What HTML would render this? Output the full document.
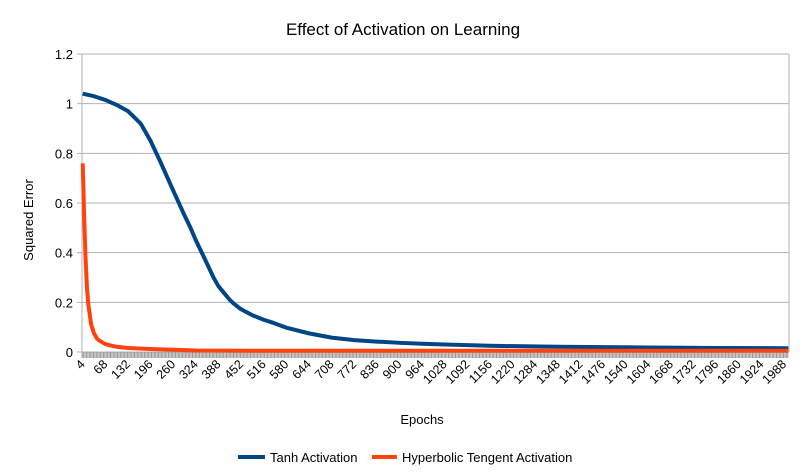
<!DOCTYPE html>
<html><head><meta charset="utf-8"><style>
body{margin:0;background:#fff;}
svg{display:block;font-family:"Liberation Sans",sans-serif;}
</style></head><body>
<svg id="chart" width="807" height="476" viewBox="0 0 807 476">
<text x="403" y="35" text-anchor="middle" font-size="17" fill="#000">Effect of Activation on Learning</text>
<g id="grid"></g>
<g id="yticks"></g>
<g id="xticks"></g>
<g id="series"></g>
<text transform="translate(33,220) rotate(-90)" text-anchor="middle" font-size="13">Squared Error</text>
<text x="422" y="424" text-anchor="middle" font-size="13">Epochs</text>
<g>
<g><line x1="238" y1="457" x2="265" y2="457" stroke="#004586" stroke-width="4"/><text x="270" y="462" font-size="13">Tanh Activation</text></g>
<g><line x1="372" y1="457" x2="397" y2="457" stroke="#ff420e" stroke-width="4"/><text x="402" y="462" font-size="13">Hyperbolic Tengent Activation</text></g>
</g>
</svg>
<script>
const yTicks=[0,0.2,0.4,0.6,0.8,1,1.2];
const xLabels=[4,68,132,196,260,324,388,452,516,580,644,708,772,836,900,964,1028,1092,1156,1220,1284,1348,1412,1476,1540,1604,1668,1732,1796,1860,1924,1988];
const tanhEpochs=[4,36,68,100,132,168,196,224,260,292,309,324,356,374,388,420,431,452,484,516,544,580,644,708,772,836,900,964,1028,1156,1348,1604,1800,2000];
const tanhValues=[1.04,1.03,1.015,0.995,0.97,0.92,0.85,0.765,0.65,0.55,0.50,0.45,0.355,0.30,0.265,0.21,0.195,0.172,0.148,0.13,0.117,0.098,0.075,0.058,0.048,0.042,0.037,0.033,0.030,0.025,0.021,0.018,0.016,0.015];
const hypEpochs=[4,8,12,16,20,28,36,44,52,68,84,100,132,196,260,324,500,1000,2000];
const hypValues=[0.76,0.55,0.38,0.26,0.19,0.11,0.075,0.055,0.045,0.032,0.026,0.021,0.016,0.012,0.009,0.006,0.005,0.005,0.005];
const L=82,R=789,T=54,B=352,yMax=1.2;
function y(v){return B-(v/yMax)*(B-T);}
function x(e){return L+((e-4)/4+0.5)*(R-L)/500;}
const NS="http://www.w3.org/2000/svg";
function mk(t,a,p){const el=document.createElementNS(NS,t);for(const k in a)el.setAttribute(k,a[k]);p.appendChild(el);return el;}
const grid=document.getElementById('grid'),yt=document.getElementById('yticks'),xt=document.getElementById('xticks'),ser=document.getElementById('series');
yTicks.forEach(v=>{
 const g=mk('line',{x1:L-5,x2:R,y1:y(v),y2:y(v),stroke:'#b3b3b3','stroke-width':1},grid);
 
 
 const t=mk('text',{x:L-9,y:y(v)+5,'text-anchor':'end','font-size':13},yt);
 t.textContent=String(v);
 
 
});
mk('line',{x1:L,x2:L,y1:T,y2:B+6,stroke:'#b3b3b3','stroke-width':1},grid);
mk('line',{x1:R,x2:R,y1:T,y2:B,stroke:'#b3b3b3','stroke-width':1},grid);
let d='';
for(let e=4;e<=2000;e+=4){const xx=x(e)-0.5;d+='M'+xx+' '+B+'V'+(B+6);}
mk('path',{d:d,stroke:'#999','stroke-width':1},grid);
xLabels.forEach(e=>{
 const t=mk('text',{transform:'translate('+(x(e)+3)+','+(B+13)+') rotate(-45)','text-anchor':'end','font-size':12.5},xt);
 t.textContent=String(e);
 
 
});
function line(es,vs,c,name){
 const p=mk('polyline',{points:es.map((e,i)=>x(e)+','+y(vs[i])).join(' '),fill:'none',stroke:c,'stroke-width':4,'stroke-linejoin':'round'},ser);
 
 
}
line(tanhEpochs,tanhValues,'#004586','tanh-series-line');
line(hypEpochs,hypValues,'#ff420e','hyperbolic-series-line');
</script>
</body></html>
